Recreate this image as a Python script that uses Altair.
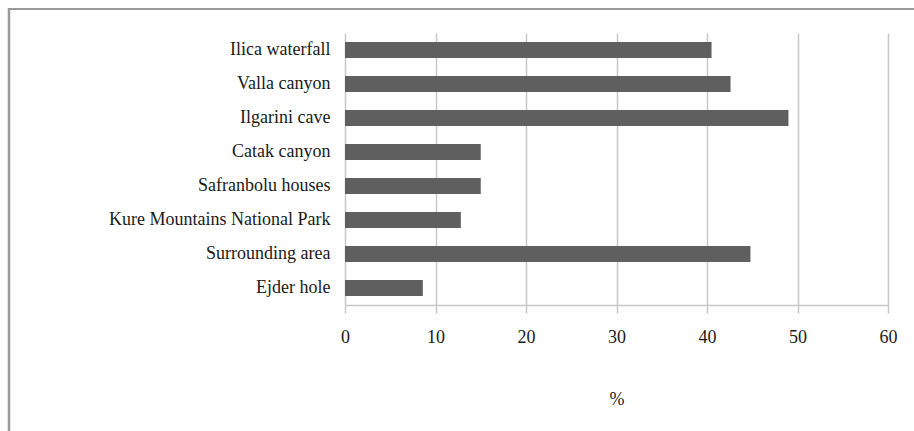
import altair as alt
import pandas as pd

# Share of visitors (%) by attraction
places = [
    "Ilica waterfall",
    "Valla canyon",
    "Ilgarini cave",
    "Catak canyon",
    "Safranbolu houses",
    "Kure Mountains National Park",
    "Surrounding area",
    "Ejder hole",
]
percent = [40.5, 42.6, 49.0, 15.0, 15.0, 12.8, 44.8, 8.6]
x_ticks = [0, 10, 20, 30, 40, 50, 60]

df = pd.DataFrame({"place": places, "percent": percent})

W, H = 543, 272
PAD_L, PAD_T = 345, 33
FONT = "Liberation Serif"

bars = alt.Chart(df).mark_bar(color="#5f5f5f").encode(
    x=alt.X(
        "percent:Q",
        scale=alt.Scale(domain=[0, 60], nice=False),
        axis=alt.Axis(
            values=x_ticks,
            title="%",
            titleFont=FONT,
            titleFontSize=18,
            titleFontWeight="normal",
            titleColor="#1a1a1a",
            titlePadding=44,
            labelFont=FONT,
            labelFontSize=18,
            labelColor="#1a1a1a",
            labelPadding=15,
            tickSize=8,
            tickColor="#c8c8c8",
            tickWidth=1.5,
            domainColor="#c8c8c8",
            domainWidth=1.5,
            gridColor="#c8c8c8",
            gridWidth=1.5,
            labelFlush=False,
        ),
    ),
    y=alt.Y(
        "place:N",
        sort=places,
        scale=alt.Scale(paddingInner=0.53, paddingOuter=0.265),
        axis=alt.Axis(
            title=None,
            labelFont=FONT,
            labelFontSize=18,
            labelColor="#1a1a1a",
            labelPadding=15,
            labelLimit=400,
            ticks=False,
            domain=False,
            grid=False,
        ),
    ),
)

# Outer frame: top and left edges of the chart border
frame_top = alt.Chart(df.head(1)).mark_rule(color="#9a9a9a", strokeWidth=2).encode(
    x=alt.value(-PAD_L + 9), x2=alt.value(914 - PAD_L + 5), y=alt.value(-PAD_T + 9)
)
frame_left = alt.Chart(df.head(1)).mark_rule(color="#9a9a9a", strokeWidth=2.5).encode(
    x=alt.value(-PAD_L + 9), y=alt.value(-PAD_T + 8), y2=alt.value(431 - PAD_T + 5)
)

chart = (
    alt.layer(bars, frame_top, frame_left)
    .properties(
        width=W,
        height=H,
        autosize=alt.AutoSizeParams(type="none"),
        padding={"left": PAD_L, "top": PAD_T, "right": 914 - PAD_L - W, "bottom": 431 - PAD_T - H},
        background="white",
    )
    .configure_view(stroke=None)
)

chart.save("out.html", embed_options={"renderer": "svg", "actions": False})
